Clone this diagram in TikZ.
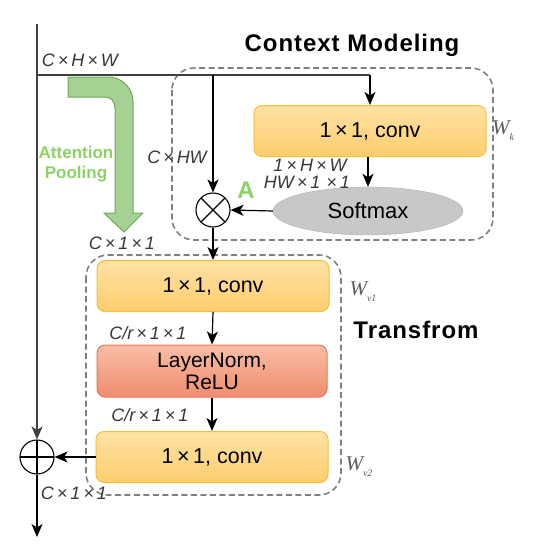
\documentclass[tikz,border=0pt]{standalone}
\usepackage{fontspec}
\setmainfont{Liberation Sans}
\newfontfamily\tms{Liberation Serif}
\usetikzlibrary{arrows.meta,shapes.geometric,calc}
\definecolor{convtop}{RGB}{255,226,165}
\definecolor{convbot}{RGB}{253,205,110}
\definecolor{convedge}{RGB}{245,190,60}
\definecolor{lntop}{RGB}{248,190,165}
\definecolor{lnbot}{RGB}{240,140,110}
\definecolor{lnedge}{RGB}{230,120,85}
\definecolor{smfill}{RGB}{200,200,200}
\definecolor{smedge}{RGB}{175,175,175}
\definecolor{dashgray}{RGB}{128,128,128}
\definecolor{gfill}{RGB}{155,205,135}
\definecolor{gedge}{RGB}{110,170,90}
\definecolor{gtext}{RGB}{140,210,100}
\definecolor{lbl}{RGB}{55,55,55}
\definecolor{wgray}{RGB}{90,90,90}
\tikzset{
  convbox/.style={draw=convedge, line width=1pt, rounded corners=8pt, top color=convtop, bottom color=convbot, minimum width=232pt, minimum height=51pt, inner sep=0pt, font=\fontsize{21.5}{24}\selectfont},
  lnbox/.style={draw=lnedge, line width=1pt, rounded corners=8pt, top color=lntop, bottom color=lnbot, minimum width=230pt, minimum height=52pt, inner sep=0pt, align=center, font=\fontsize{21}{22}\selectfont},
  smnode/.style={ellipse, draw=smedge, fill=smfill, minimum width=190pt, minimum height=48pt, inner sep=0pt, font=\fontsize{22}{24}\selectfont},
  group/.style={draw=dashgray, line width=1.6pt, dash pattern=on 6pt off 3.5pt, rounded corners=22pt},
  lab/.style={font=\fontsize{18}{20}\selectfont\itshape, text=lbl, inner sep=0pt},
  wlab/.style={font=\fontsize{21}{22}\selectfont\tms\itshape, text=wgray, inner sep=0pt},
  title/.style={font=\fontsize{24}{26}\selectfont\bfseries\addfontfeatures{LetterSpace=4}, inner sep=0pt},
  arr/.style={-{Stealth[length=13pt,width=11pt,inset=3.5pt]}, line width=1.2pt},
  ln/.style={line width=1.2pt, draw=black!75},
  opcirc/.style={circle, draw, line width=1.1pt, minimum size=34pt, inner sep=0pt},
}
\begin{document}
\begin{tikzpicture}[x=1pt,y=-1pt]
\useasboundingbox (0,0) rectangle (536,550);
% group boxes
\draw[group] (172,68) rectangle (493,240);
\draw[group] (86,255) rectangle (341,495);
\node[title] (tcm) at (352,45) {Context Modeling};
\node[title] (ttr) at (416,330) {Transfrom};
% nodes
\node[convbox] (wk) at (370,131) {1\,×\,1, conv};
\node[smnode] (sm) at (368,211) {Softmax};
\node[opcirc, path picture={\draw[line width=1.1pt] (path picture bounding box.north west) -- (path picture bounding box.south east) (path picture bounding box.north east) -- (path picture bounding box.south west);}] (mul) at (213,210) {};
\node[convbox] (c1) at (213,286) {1\,×\,1, conv};
\node[lnbox] (lnr) at (212,371) {LayerNorm,\\ReLU};
\node[convbox] (c2) at (212,457) {1\,×\,1, conv};
\node[opcirc, path picture={\draw[line width=1.1pt] (path picture bounding box.north) -- (path picture bounding box.south) (path picture bounding box.west) -- (path picture bounding box.east);}] (add) at (37,457) {};
% coordinates
\coordinate (top) at (37,24);
\coordinate (split) at (37,75);
\coordinate (corner) at (370,75);
\coordinate (branch) at (213,75);
\coordinate (out) at (37,537);
% green attention pooling arrow
\filldraw[fill=gfill, draw=gedge, line width=1pt, fill opacity=0.9]
  (68,77) -- (108,77) .. controls (122,77) and (133,88) .. (133,102)
  -- (133,213) -- (143,213) -- (124,232) -- (104,213) -- (115,213)
  -- (115,108) .. controls (115,101) and (111,97) .. (104,97) -- (68,97) -- cycle;
\node[font=\fontsize{17}{20}\selectfont\bfseries, text=gtext, align=center, inner sep=0pt] (ap) at (76,164) {Attention\\Pooling};
% connectors
\draw[ln] (top) -- (split);
\draw[ln, arr] (split) -- (add.north);
\draw[ln] (split) -- (corner);
\draw[arr] (corner) -- (wk.north);
\draw[arr] (branch) -- (mul.north);
\draw[arr] (wk.south -| sm.north) -- (sm.north);
\draw[arr] (sm.west) -- (mul.east);
\draw[arr] (mul.south) -- (c1.north);
\draw[arr] (c1.south) -- (lnr.north);
\draw[arr] (lnr.south) -- (c2.north);
\draw[arr] (c2.west) -- (add.east);
\draw[arr] (add.south) -- (out);
% labels
\node[lab] (l1) at (80,60) {C\,×\,H\,×\,W};
\node[lab] (l2) at (177,157) {C\,×\,HW};
\node[lab] (l3) at (310,165) {1\,×\,H\,×\,W};
\node[lab] (l4) at (307,182) {HW\,×\,1\,\,×\,1};
\node[font=\fontsize{24}{26}\selectfont\bfseries, text=gtext, inner sep=0pt] (la) at (246,190) {A};
\node[lab] (l5) at (122,243) {C\,×\,1\,×\,1};
\node[lab] (l6) at (148,333) {C/r\,×\,1\,×\,1};
\node[lab] (l7) at (150,415) {C/r\,×\,1\,×\,1};
\node[lab] (l8) at (74,493) {C\,×\,1\,×\,1};
\node[wlab] (wkl) at (503,131) {W\raisebox{-0.6ex}{\fontsize{10}{10}\selectfont k}};
\node[wlab] (wv1) at (363,292) {W\raisebox{-0.6ex}{\fontsize{10}{10}\selectfont v1}};
\node[wlab] (wv2) at (359,467) {W\raisebox{-0.6ex}{\fontsize{10}{10}\selectfont v2}};
\end{tikzpicture}
\end{document}
